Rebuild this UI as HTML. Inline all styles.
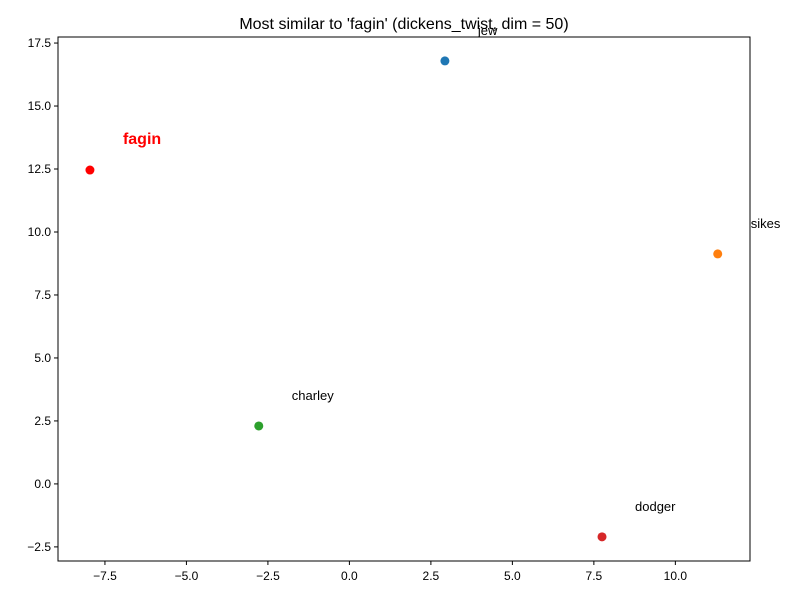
<!DOCTYPE html>
<html><head><meta charset="utf-8"><style>
body{margin:0;background:#fff}
svg text{font-family:"Liberation Sans","DejaVu Sans",sans-serif}
</style></head><body>
<svg id="chart" width="800" height="600" xmlns="http://www.w3.org/2000/svg">
<rect width="800" height="600" fill="#fff"/>
<text x="404" y="29" font-size="16" text-anchor="middle">Most similar to 'fagin' (dickens_twist, dim = 50)</text>
<g id="axes"></g>
<g id="marks"></g>
<rect x="58" y="37" width="692" height="524" fill="none" stroke="#000" stroke-width="1"/>
</svg>
<script>
const words = ['jew','sikes','charley','dodger','fagin'];
const xs = [2.93, 11.3, -2.78, 7.75, -7.96];
const ys = [16.79, 9.13, 2.30, -2.10, 12.46];
const colors = ['#1f77b4','#ff7f0e','#2ca02c','#d62728','#ff0000'];
const xTicks = [-7.5,-5.0,-2.5,0.0,2.5,5.0,7.5,10.0];
const yTicks = [-2.5,0.0,2.5,5.0,7.5,10.0,12.5,15.0,17.5];
const L=58,R=750,T=37,B=561,xmin=-8.94,xmax=12.29,ymin=-3.06,ymax=17.74;
const sx=v=>L+(v-xmin)/(xmax-xmin)*(R-L);
const sy=v=>B-(v-ymin)/(ymax-ymin)*(B-T);
const NS='http://www.w3.org/2000/svg';
const axes=document.getElementById('axes'), marks=document.getElementById('marks');
function mk(tag,attrs,parent){const e=document.createElementNS(NS,tag);for(const k in attrs)e.setAttribute(k,attrs[k]);parent.appendChild(e);return e;}
xTicks.forEach(t=>{
  const x=sx(t);
  const l=mk('line',{x1:x,x2:x,y1:B,y2:B+4,stroke:'#000'},axes);
  
  
  const tx=mk('text',{x:x,y:B+19,'font-size':12,'text-anchor':'middle'},axes);
  tx.textContent=t.toFixed(1).replace('-','−');
  
  
});
yTicks.forEach(t=>{
  const y=sy(t);
  const l=mk('line',{x1:L-4,x2:L,y1:y,y2:y,stroke:'#000'},axes);
  
  
  const tx=mk('text',{x:L-7,y:y+4,'font-size':12,'text-anchor':'end'},axes);
  tx.textContent=t.toFixed(1).replace('-','−');
  
  
});
words.forEach((w,i)=>{
  const cx=sx(xs[i]), cy=sy(ys[i]);
  const c=mk('circle',{cx:cx,cy:cy,r:4.5,fill:colors[i]},marks);
  
  
  const isQ = w==='fagin';
  const tx=mk('text',{x:cx+33,y:cy-26,'font-size':isQ?16:13,fill:isQ?'#ff0000':'#000','font-weight':isQ?'bold':'normal'},marks);
  tx.textContent=w;
  
  
});
</script>
</body></html>
